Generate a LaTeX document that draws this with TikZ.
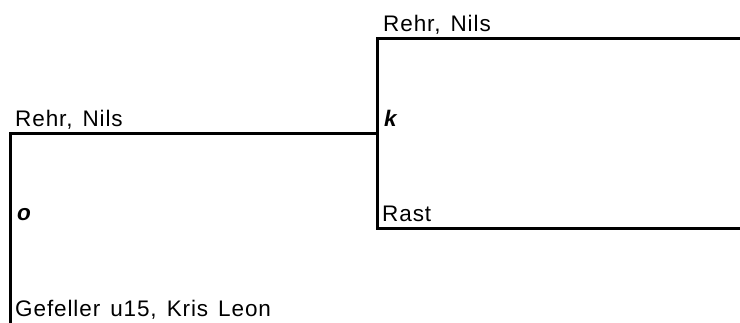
\documentclass[tikz,border=0pt]{standalone}
\usepackage{fontspec}
\setmainfont[LetterSpace=4,WordSpace=1.4]{Liberation Sans}
\begin{document}
\begin{tikzpicture}[x=1pt,y=-1pt,
  lbl/.style={anchor=base west,inner sep=0pt,font=\fontsize{22.5}{27}\selectfont},
  res/.style={lbl,font=\fontsize{22.5}{27}\selectfont\bfseries\itshape},
  bracket/.style={line width=3pt,line join=miter,line cap=rect}]
\useasboundingbox (0,0) rectangle (740,323);
% coordinates
\coordinate (t1) at (740,39);
\coordinate (t2) at (377,39);
\coordinate (b2) at (377,229);
\coordinate (b1) at (740,229);
\coordinate (m2) at (377,134);
\coordinate (m1) at (10,134);
\coordinate (l1) at (10,325);
% lines
\draw[bracket] (t1) -- (t2) -- (b2) -- (b1);
\draw[bracket] (m2) -- (m1) -- (l1);
% texts
\node[lbl] (n1) at (383,32) {Rehr, Nils};
\node[res] (k) at (384,127) {k};
\node[lbl] (n2) at (382,222) {Rast};
\node[lbl] (n3) at (15,127) {Rehr, Nils};
\node[res] (o) at (17,221) {o};
\node[lbl] (n4) at (15,317) {Gefeller u15, Kris Leon};
\end{tikzpicture}
\end{document}
